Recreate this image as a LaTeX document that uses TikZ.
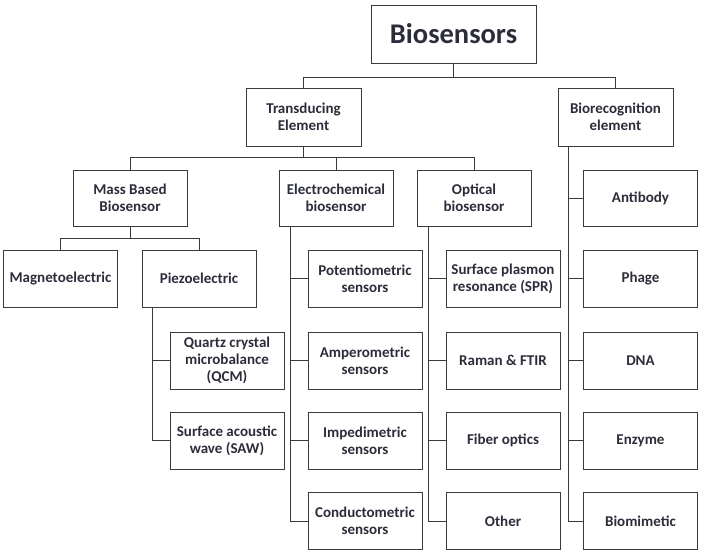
\documentclass[tikz,border=0pt]{standalone}
\usepackage{fontspec}
\setmainfont{Carlito}
\definecolor{txt}{HTML}{2B2D3A}
\definecolor{ln}{HTML}{3A3A3A}
\begin{document}
\begin{tikzpicture}[x=1pt,y=-1pt,
  box/.style={draw=ln,line width=1pt,minimum width=114pt,minimum height=57pt,
    align=center,inner sep=2pt,text=txt,
    font=\fontsize{15}{17}\selectfont\bfseries},
  conn/.style={draw=ln,line width=1pt}]
\useasboundingbox (0,0) rectangle (702,554);
\node[box,minimum width=165pt,minimum height=58pt,font=\fontsize{28.5}{32}\selectfont\bfseries] (root) at (453.5,34) {Biosensors};
\node[box,minimum width=115pt,minimum height=58pt] (trans) at (303.5,117) {Transducing\\Element};
\node[box,minimum width=115pt,minimum height=58pt] (biorec) at (615.5,117) {Biorecognition\\element};
\node[box,minimum height=56pt] (mass) at (130,198) {Mass Based\\Biosensor};
\node[box,minimum height=56pt] (electro) at (336,198) {Electrochemical\\biosensor};
\node[box,minimum height=56pt] (optical) at (474,198) {Optical\\biosensor};
\node[box,minimum height=56pt] (antibody) at (640.5,198) {Antibody};
\node[box] (magneto) at (60.5,278.5) {Magnetoelectric};
\node[box] (piezo) at (199,278.5) {Piezoelectric};
\node[box] (qcm) at (227,360.5) {Quartz crystal\\microbalance\\(QCM)};
\node[box] (saw) at (227,440.5) {Surface acoustic\\wave (SAW)};
\node[box] (potentio) at (365,278.5) {Potentiometric\\sensors};
\node[box] (ampero) at (365,360.5) {Amperometric\\sensors};
\node[box] (imped) at (365,440.5) {Impedimetric\\sensors};
\node[box] (conduct) at (365,521) {Conductometric\\sensors};
\node[box] (spr) at (503,278.5) {Surface plasmon\\resonance (SPR)};
\node[box] (raman) at (503,360.5) {Raman \& FTIR};
\node[box] (fiber) at (503,440.5) {Fiber optics};
\node[box] (other) at (503,521) {Other};
\node[box] (phage) at (640.5,278.5) {Phage};
\node[box] (dna) at (640.5,360.5) {DNA};
\node[box] (enzyme) at (640.5,440.5) {Enzyme};
\node[box] (biomim) at (640.5,521) {Biomimetic};
% tree connectors
\draw[conn] (root.south) -- ++(0,14) -| (trans.north);
\draw[conn] (root.south) -- ++(0,14) -| (biorec.north);
\draw[conn] (trans.south) -- ++(0,11) -| (mass.north);
\draw[conn] (trans.south) -- ++(0,11) -| (electro.north);
\draw[conn] (trans.south) -- ++(0,11) -| (optical.north);
\draw[conn] (mass.south) -- ++(0,12) -| (magneto.north);
\draw[conn] (mass.south) -- ++(0,12) -| (piezo.north);
% side branches
\foreach \t in {qcm,saw} \draw[conn] ([xshift=11pt]piezo.south west) |- (\t.west);
\foreach \t in {potentio,ampero,imped,conduct} \draw[conn] ([xshift=12pt]electro.south west) |- (\t.west);
\foreach \t in {spr,raman,fiber,other} \draw[conn] ([xshift=12pt]optical.south west) |- (\t.west);
\foreach \t in {antibody,phage,dna,enzyme,biomim} \draw[conn] ([xshift=11pt]biorec.south west) |- (\t.west);
\end{tikzpicture}
\end{document}
